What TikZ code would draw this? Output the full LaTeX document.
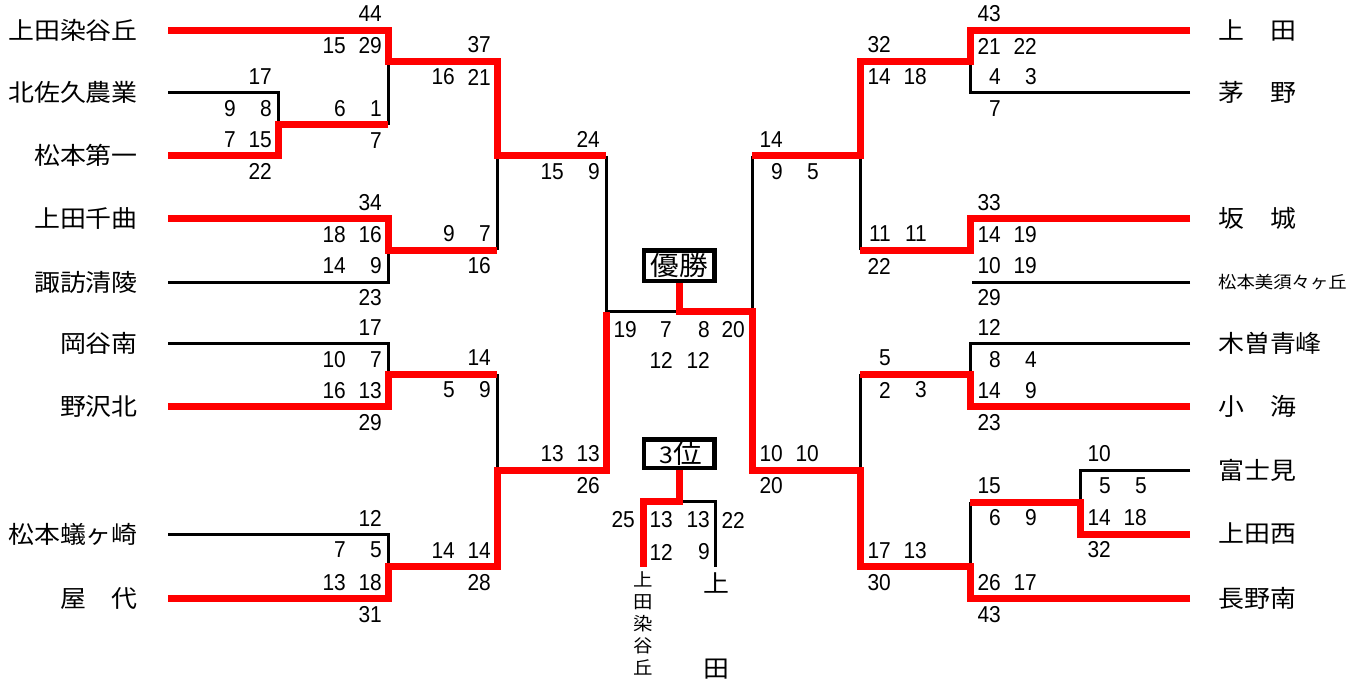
\documentclass[tikz,border=0pt]{standalone}
\usepackage{fontspec}
\setmainfont{Liberation Sans}[FakeStretch=0.91]
\newfontfamily\jpf{Noto Sans CJK JP}[FakeStretch=1.08]
\newcommand\mynumf{\fontsize{23}{23}\selectfont}
\newcommand\mynamef{\jpf\fontsize{24}{24}\selectfont}
\newcommand\mysmallf{\jpf\fontsize{17}{17}\selectfont}
\newcommand\myboxf{\jpf\fontsize{26.5}{26.5}\selectfont}
\begin{document}
\begin{tikzpicture}[x=1pt,y=-1pt,
  blk/.style={line width=3pt,black},
  redl/.style={line width=7pt,red,line join=miter},
  num/.style={font=\mynumf,inner sep=0pt,anchor=east},
  lname/.style={font=\mynamef,inner sep=0pt,anchor=east},
  rname/.style={font=\mynamef,inner sep=0pt,anchor=west},
  boxl/.style={draw,line width=4.5pt,minimum width=70.5pt,inner sep=0pt,font=\myboxf}]
\useasboundingbox (0,0) rectangle (1364,683);
% ---------- coordinates left
\coordinate (l0) at (168,30);   \coordinate (b0) at (388,30);  \coordinate (b0m) at (388,61);
\coordinate (d0) at (497,61);   \coordinate (d0m) at (497,155.5); \coordinate (h0) at (606,155.5);
\coordinate (l1) at (168,92.5); \coordinate (a1) at (278,92.5); \coordinate (a1m) at (278,124.5);
\coordinate (b1) at (388,124.5);
\coordinate (l2) at (168,155.5); \coordinate (a2) at (278,155.5);
\coordinate (l3) at (168,218.5); \coordinate (c3) at (388,218.5); \coordinate (c3m) at (388,250);
\coordinate (d1) at (497,250);
\coordinate (l4) at (168,282);  \coordinate (c4) at (388,282);
\coordinate (l5) at (168,343.5); \coordinate (e5) at (388,343.5); \coordinate (e5m) at (388,374);
\coordinate (g0) at (497,374);
\coordinate (l6) at (168,406.5); \coordinate (e6) at (388,406.5);
\coordinate (l8) at (168,534);  \coordinate (f8) at (388,534); \coordinate (f8m) at (388,566.5);
\coordinate (g1) at (497,566.5);
\coordinate (l9) at (168,598.5); \coordinate (f9) at (388,598.5);
\coordinate (g1m) at (497,470); \coordinate (h1) at (606,470);
\coordinate (hf) at (606,311.5); \coordinate (fc) at (679,311.5);
% ---------- coordinates right
\coordinate (q0) at (1190,30);  \coordinate (ra0) at (970,30); \coordinate (ra0m) at (970,61);
\coordinate (rc0) at (860,61);  \coordinate (rc0m) at (860,155.5); \coordinate (rd0) at (752,155.5);
\coordinate (q1) at (1190,92.5); \coordinate (ra1) at (970,92.5);
\coordinate (q3) at (1190,218.5); \coordinate (rb3) at (970,218.5); \coordinate (rb3m) at (970,250);
\coordinate (rc1) at (860,250);
\coordinate (q4) at (1190,282); \coordinate (rb4) at (972,282);
\coordinate (q5) at (1190,343.5); \coordinate (re5) at (970,343.5); \coordinate (re5m) at (970,374);
\coordinate (rh0) at (860,374);
\coordinate (q6) at (1190,406.5); \coordinate (re6) at (970,406.5);
\coordinate (q7) at (1190,470); \coordinate (rf7) at (1080,470); \coordinate (rf7m) at (1080,502);
\coordinate (rg0) at (970,502);
\coordinate (q8) at (1190,534); \coordinate (rf8) at (1080,534);
\coordinate (q9) at (1190,598.5); \coordinate (rg9) at (970,598.5); \coordinate (rg9m) at (970,566.5);
\coordinate (rh1) at (860,566.5);
\coordinate (rh1m) at (860,470); \coordinate (rd1) at (752,470);
\coordinate (rdf) at (752,311.5);
% third place
\coordinate (t0) at (679,501.5); \coordinate (tl) at (643,501.5); \coordinate (tlb) at (643,567);
\coordinate (tr) at (715,501.5); \coordinate (trb) at (715,567);
% ---------- boxes
\node[boxl,minimum height=30.5pt] (win) at (679,265.5) {優勝};
\node[boxl,minimum height=28.5pt] (third) at (679,453.5) {\hspace{4pt}{\mynumf 3}位};
% ---------- black lines
\draw[blk] (l1)--(a1)--(a1m);
\draw[blk] (b0m)--(b1);
\draw[blk] (l4)--(c4)--(c3m);
\draw[blk] (d1)--(d0m);
\draw[blk] (h0)--(hf)--(fc);
\draw[blk] (l5)--(e5)--(e5m);
\draw[blk] (g0)--(g1m);
\draw[blk] (l8)--(f8)--(f8m);
\draw[blk] (q1)--(ra1)--(ra0m);
\draw[blk] (q4)--(rb4);
\draw[blk] (rc1)--(rc0m);
\draw[blk] (rd0)--(rdf);
\draw[blk] (q5)--(re5)--(re5m);
\draw[blk] (rh0)--(rh1m);
\draw[blk] (q7)--(rf7)--(rf7m);
\draw[blk] (rg0)--(rg9m);
\draw[blk] (t0)--(tr)--(trb);
% ---------- red lines
\draw[redl] (l0)--(b0)--(b0m)--(d0)--(d0m)--(h0);
\draw[redl] (l2)--(a2)--(a1m)--(b1);
\draw[redl] (l3)--(c3)--(c3m)--(d1);
\draw[redl] (l6)--(e6)--(e5m)--(g0);
\draw[redl] (l9)--(f9)--(f8m)--(g1)--(g1m)--(h1)--(hf);
\draw[redl] (q0)--(ra0)--(ra0m)--(rc0)--(rc0m)--(rd0);
\draw[redl] (q3)--(rb3)--(rb3m)--(rc1);
\draw[redl] (q6)--(re6)--(re5m)--(rh0);
\draw[redl] (q8)--(rf8)--(rf7m)--(rg0);
\draw[redl] (q9)--(rg9)--(rg9m)--(rh1)--(rh1m)--(rd1)--(rdf)--(fc)--(win.south);
\draw[redl] (third.south)--(t0)--(tl)--(tlb);
% ---------- names
\node[lname] (n0) at (138,30) {上田染谷丘};
\node[lname] (n1) at (138,92.5) {北佐久農業};
\node[lname] (n2) at (138,155.5) {松本第一};
\node[lname] (n3) at (138,218.5) {上田千曲};
\node[lname] (n4) at (138,282) {諏訪清陵};
\node[lname] (n5) at (138,343.5) {岡谷南};
\node[lname] (n6) at (138,406.5) {野沢北};
\node[lname] (n8) at (138,534) {松本蟻ヶ崎};
\node[lname] (n9) at (138,598.5) {屋　代};
\node[rname] (m0) at (1218,30) {上　田};
\node[rname] (m1) at (1218,92.5) {茅　野};
\node[rname] (m3) at (1218,218.5) {坂　城};
\node[rname,font=\mysmallf] (m4) at (1218,282) {松本美須々ヶ丘};
\node[rname] (m5) at (1218,343.5) {木曽青峰};
\node[rname] (m6) at (1218,406.5) {小　海};
\node[rname] (m7) at (1218,470) {富士見};
\node[rname] (m8) at (1218,534) {上田西};
\node[rname] (m9) at (1218,598.5) {長野南};
\node[font={\jpf\fontsize{18}{22}\selectfont},align=center,inner sep=0pt] (v1) at (643,623) {上\\田\\染\\谷\\丘};
\node[font={\jpf\fontsize{24}{85}\selectfont},align=center,inner sep=0pt] (v2) at (716,625.5) {上\\田};
% ---------- scores
\foreach \px/\py/\t [count=\i] in {
 272/76.5/17, 236/108.5/9, 272/108.5/8, 236/139.5/7, 272/139.5/15, 272/171.5/22,
 382/14/44, 346/46/15, 382/46/29, 346/108.5/6, 382/108.5/1, 382/140.5/7,
 382/202.5/34, 346/234.5/18, 382/234.5/16, 346/266/14, 382/266/9, 382/298/23,
 491/45/37, 455/77/16, 491/77/21, 455/234/9, 491/234/7, 491/266/16,
 600/139.5/24, 564/171.5/15, 600/171.5/9, 564/454/13, 600/454/13, 600/486/26,
 382/327.5/17, 346/359.5/10, 382/359.5/7, 346/390.5/16, 382/390.5/13, 382/422.5/29,
 491/358/14, 455/390/5, 491/390/9, 455/550.5/14, 491/550.5/14, 491/582.5/28,
 382/518/12, 346/550/7, 382/550/5, 346/582.5/13, 382/582.5/18, 382/614.5/31,
 1001/14/43, 1001/46/21, 1037/46/22, 1001/76.5/4, 1037/76.5/3, 1001/108.5/7,
 1001/202.5/33, 1001/234.5/14, 1037/234.5/19, 1001/266/10, 1037/266/19, 1001/298/29,
 891/45/32, 891/77/14, 927/77/18, 891/234/11, 927/234/11, 891/266/22,
 783/139.5/14, 783/171.5/9, 819/171.5/5, 783/454/10, 819/454/10, 783/486/20,
 1001/327.5/12, 1001/359.5/8, 1037/359.5/4, 1001/390.5/14, 1037/390.5/9, 1001/422.5/23,
 1111/454/10, 1111/486/5, 1147/486/5, 1111/518/14, 1147/518/18, 1111/550/32,
 1001/486/15, 1001/518/6, 1037/518/9, 1001/582.5/26, 1037/582.5/17, 1001/614.5/43,
 891/358/5, 891/390/2, 927/390/3, 891/550.5/17, 927/550.5/13, 891/582.5/30,
 637/330/19, 672/330/7, 710/330/8, 745/330/20, 673/360/12, 710/360/12,
 635/520/25, 673/520/13, 710/520/13, 745/520/22, 673/552/12, 710/552/9}
 { \node[num] (s\i) at (\px,\py) {\t}; }
\end{tikzpicture}
\end{document}
